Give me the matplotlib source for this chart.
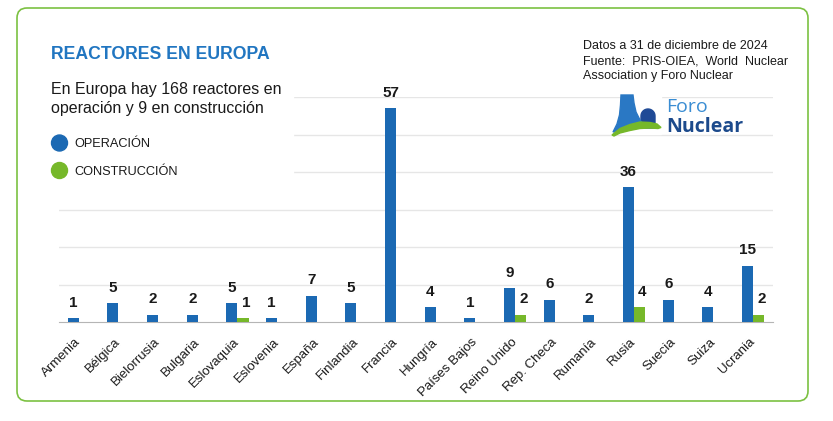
import numpy as np
import matplotlib
matplotlib.use("Agg")
import matplotlib.pyplot as plt
from matplotlib.patches import FancyBboxPatch, Circle, Polygon, Rectangle

plt.rcParams['font.family'] = ['Liberation Sans', 'DejaVu Sans']

# datos a 31/12/2024
paises = ['Armenia', 'Bélgica', 'Bielorrusia', 'Bulgaria', 'Eslovaquia', 'Eslovenia',
          'España', 'Finlandia', 'Francia', 'Hungría', 'Países Bajos', 'Reino Unido',
          'Rep. Checa', 'Rumanía', 'Rusia', 'Suecia', 'Suiza', 'Ucrania']
operacion = [1, 5, 2, 2, 5, 1, 7, 5, 57, 4, 1, 9, 6, 2, 36, 6, 4, 15]
construccion = [0, 0, 0, 0, 1, 0, 0, 0, 0, 0, 0, 2, 0, 0, 4, 0, 0, 2]

AZUL = '#1b69b3'
VERDE = '#76b82a'
TEXTO = '#1a1a1a'

fig = plt.figure(figsize=(8.33, 4.21), dpi=100)
fig.patch.set_facecolor('white')

# grafico de barras
ax = fig.add_axes([59 / 833, 99 / 421, 714 / 833, 225 / 421])
x = np.arange(len(paises))
w = 0.28
op = np.array(operacion)
co = np.array(construccion)
mask = co > 0

ax.bar(x - w / 2, op, w, color=AZUL, zorder=3)
ax.bar(x[mask] + w / 2, co[mask], w, color=VERDE, zorder=3)

for xi, v in zip(x, op):
    ax.annotate(str(v), (xi - w / 2, v), xytext=(0, 6), textcoords='offset points',
                ha='center', va='bottom', fontsize=11, fontweight='bold', color=TEXTO)
for xi, v in zip(x[mask], co[mask]):
    ax.annotate(str(v), (xi + w / 2, v), xytext=(2, 6), textcoords='offset points',
                ha='center', va='bottom', fontsize=11, fontweight='bold', color=TEXTO)

ax.set_xlim(-0.5, len(paises) - 0.5)
ax.set_ylim(0, 60)
ax.set_yticks(range(10, 61, 10))
ax.yaxis.grid(True, color='#e6e6e6', linewidth=1)
ax.set_axisbelow(True)
ax.tick_params(axis='y', length=0, labelleft=False)
ax.set_xticks(x)
ax.set_xticklabels(paises, rotation=45, ha='right', va='center', rotation_mode='anchor',
                   fontsize=9.5, color=TEXTO)
ax.tick_params(axis='x', length=0, pad=13)
for s in ['top', 'right', 'left']:
    ax.spines[s].set_visible(False)
ax.spines['bottom'].set_color('#b5b5b5')

# capa superior en pixeles: marco, textos, leyenda y logo
ov = fig.add_axes([0, 0, 1, 1], zorder=5)
ov.set_xlim(0, 833)
ov.set_ylim(421, 0)
ov.axis('off')
ov.patch.set_alpha(0)

ov.add_patch(FancyBboxPatch((17, 8), 791, 393, boxstyle='round,pad=0,rounding_size=10',
                            fill=False, edgecolor='#7cc142', linewidth=1.2))
ov.add_patch(Rectangle((55, 30), 238, 156, color='white', zorder=1))

ov.text(51, 59, 'REACTORES EN EUROPA', color='#2176c1', fontsize=12.7,
        fontweight='bold', va='baseline', zorder=2)
ov.text(51, 94, 'En Europa hay 168 reactores en', color=TEXTO, fontsize=11.5,
        va='baseline', zorder=2)
ov.text(51, 113, 'operación y 9 en construcción', color=TEXTO, fontsize=11.5,
        va='baseline', zorder=2)

ov.add_patch(Circle((59.5, 143), 8, color=AZUL, zorder=2))
ov.add_patch(Circle((59.5, 170.5), 8, color=VERDE, zorder=2))
ov.text(74, 147, 'OPERACIÓN', color=TEXTO, fontsize=9.2, va='baseline', zorder=2)
ov.text(74, 175, 'CONSTRUCCIÓN', color=TEXTO, fontsize=9.2, va='baseline', zorder=2)

ov.text(583, 49, 'Datos a 31 de diciembre de 2024', color=TEXTO, fontsize=9, va='baseline')
ov.text(583, 64, 'Fuente:  PRIS-OIEA,  World  Nuclear', color=TEXTO, fontsize=9, va='baseline')
ov.text(583, 79, 'Association y Foro Nuclear', color=TEXTO, fontsize=9, va='baseline')

# logo
ov.add_patch(Rectangle((621, 94), 40, 40, color='white', zorder=1))
th = np.linspace(0, np.pi, 20)
cupula = [(641, 128)] + [(648 - 7 * np.cos(t), 116 - 7 * np.sin(t)) for t in th] + [(655, 128)]
ov.add_patch(Polygon(cupula, closed=True, color='#1f4a96', zorder=2))
torre = [(621, 95), (633, 95), (634, 103), (636, 112), (640, 120), (645, 127),
         (613, 132), (617, 124), (619.5, 115), (620.5, 105)]
ov.add_patch(Polygon(torre, closed=True, color='#2a78c4', zorder=3))
suelo = [(612, 135), (620, 128.5), (630, 124.5), (640, 122), (650, 122.5), (657, 124),
         (661, 127.5), (658, 128.5), (650, 128), (640, 128.5), (630, 130.5), (620, 133),
         (614, 136)]
ov.add_patch(Polygon(suelo, closed=True, color=VERDE, zorder=4))
ov.text(666, 112, 'Foro', color='#3a8dd3', fontsize=14, family='Open Sans',
        va='baseline')
ov.text(666, 132, 'Nuclear', color='#1c4a8c', fontsize=14, family='Open Sans',
        fontweight='bold', va='baseline')

fig.savefig('out.png', dpi=100, facecolor='white')
